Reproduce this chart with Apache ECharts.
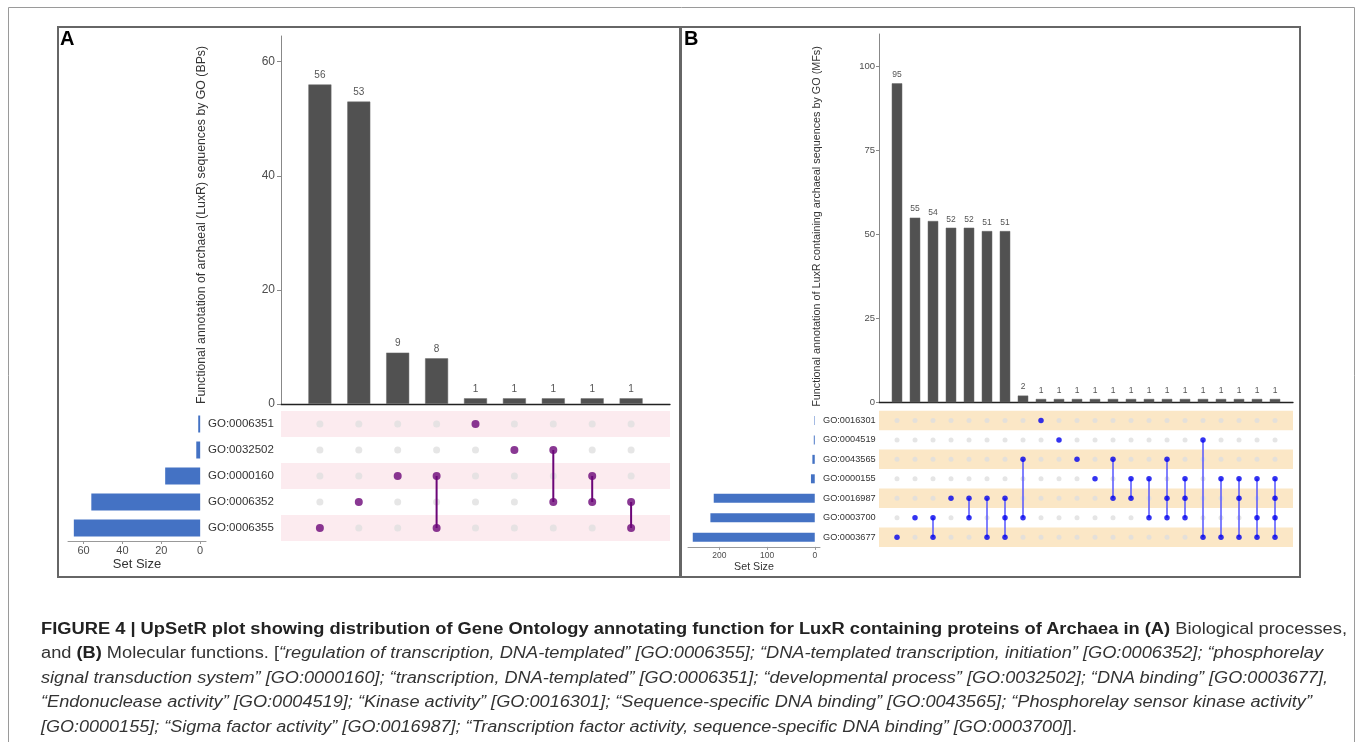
<!DOCTYPE html>
<html>
<head>
<meta charset="utf-8">
<script src="https://cdn.jsdelivr.net/npm/echarts@6/dist/echarts.min.js"></script>
<style>
html,body{margin:0;padding:0;background:#fff;}
#main{position:absolute;left:0;top:0;width:1357px;height:742px;}
#cap{position:absolute;left:41px;top:617px;font-family:"Liberation Sans",Arial,sans-serif;font-size:16px;line-height:24.4px;color:#333;white-space:nowrap;}
#cap .l{display:block;}
#cap .l span{display:inline-block;transform-origin:0 50%;}
#cap b{color:#222;}
</style>
</head>
<body>
<div id="main"></div>
<div id="cap">
<div class="l"><span><b>FIGURE 4 | UpSetR plot showing distribution of Gene Ontology annotating function for LuxR containing proteins of Archaea in (A)</b> Biological processes,</span></div>
<div class="l"><span>and <b>(B)</b> Molecular functions. [<i>“regulation of transcription, DNA-templated” [GO:0006355]; “DNA-templated transcription, initiation” [GO:0006352]; “phosphorelay</i></span></div>
<div class="l"><span><i>signal transduction system” [GO:0000160]; “transcription, DNA-templated” [GO:0006351]; “developmental process” [GO:0032502]; “DNA binding” [GO:0003677],</i></span></div>
<div class="l"><span><i>“Endonuclease activity” [GO:0004519]; “Kinase activity” [GO:0016301]; “Sequence-specific DNA binding” [GO:0043565]; “Phosphorelay sensor kinase activity”</i></span></div>
<div class="l"><span><i>[GO:0000155]; “Sigma factor activity” [GO:0016987]; “Transcription factor activity, sequence-specific DNA binding” [GO:0003700]</i>].</span></div>
</div>
<script>
// ---------- Panel A data (Biological processes) ----------
const setsA = ['GO:0006351', 'GO:0032502', 'GO:0000160', 'GO:0006352', 'GO:0006355'];
const setSizesA = [1, 2, 18, 56, 65];
const interCountsA = [56, 53, 9, 8, 1, 1, 1, 1, 1];
// member set indices (rows, top to bottom) of each intersection column
const interMembersA = [[4], [3], [2], [2, 4], [0], [1], [1, 3], [2, 3], [3, 4]];
const barTicksA = [0, 20, 40, 60];
const setTicksA = [0, 20, 40, 60];

// ---------- Panel B data (Molecular functions) ----------
const setsB = ['GO:0016301', 'GO:0004519', 'GO:0043565', 'GO:0000155', 'GO:0016987', 'GO:0003700', 'GO:0003677'];
const setSizesB = [1, 2, 5, 8, 212, 219, 256];
const interCountsB = [95, 55, 54, 52, 52, 51, 51, 2, 1, 1, 1, 1, 1, 1, 1, 1, 1, 1, 1, 1, 1, 1];
const interMembersB = [[6], [5], [5, 6], [4], [4, 5], [4, 6], [4, 5, 6], [2, 5], [0], [1], [2], [3], [2, 4], [3, 4], [3, 5], [2, 4, 5], [3, 4, 5], [1, 6], [3, 6], [3, 4, 6], [3, 5, 6], [3, 4, 5, 6]];
const barTicksB = [0, 25, 50, 75, 100];
const setTicksB = [0, 100, 200];

const FONT = '"Liberation Sans", Arial, Helvetica, sans-serif';

function barData(counts) { return counts.map((v, i) => [i + 1, v]); }
function activeDots(members) {
  const out = [];
  members.forEach((m, i) => m.forEach(r => out.push([i + 1, r])));
  return out;
}
function inactiveDots(members, nSets) {
  const out = [];
  members.forEach((m, i) => { for (let r = 0; r < nSets; r++) if (m.indexOf(r) < 0) out.push([i + 1, r]); });
  return out;
}
function connectors(members) {
  return members.map((m, i) => [i + 1, Math.min.apply(null, m), Math.max.apply(null, m)]).filter(d => d[1] !== d[2]);
}
function bandRows(n) { const o = []; for (let r = 0; r < n; r += 2) o.push([0, r]); return o; }

function bandSeries(xi, n, fill) {
  return {
    type: 'custom', xAxisIndex: xi, yAxisIndex: xi, silent: true, z: 1,
    encode: { x: 0, y: 1 },
    data: bandRows(n),
    renderItem: function (params, api) {
      const c = api.coord([0, api.value(1)]);
      const h = api.size([0, 1])[1];
      return { type: 'rect', shape: { x: params.coordSys.x, y: c[1] - h / 2, width: params.coordSys.width, height: h }, style: { fill: fill } };
    }
  };
}
function connSeries(xi, members, color, w) {
  return {
    type: 'custom', xAxisIndex: xi, yAxisIndex: xi, silent: true, z: 3,
    encode: { x: 0, y: [1, 2] },
    data: connectors(members),
    renderItem: function (params, api) {
      const p1 = api.coord([api.value(0), api.value(1)]);
      const p2 = api.coord([api.value(0), api.value(2)]);
      return { type: 'line', shape: { x1: p1[0], y1: p1[1], x2: p2[0], y2: p2[1] }, style: { stroke: color, lineWidth: w } };
    }
  };
}

const chart = echarts.init(document.getElementById('main'), null, { renderer: 'canvas', width: 1357, height: 742 });

const option = {
  animation: false,
  textStyle: { fontFamily: FONT },
  grid: [
    { left: 281, top: 36, width: 389, height: 368 },      // 0 A bars
    { left: 281, top: 411, width: 389, height: 130 },     // 1 A matrix
    { left: 68, top: 411, width: 138, height: 130 },      // 2 A set sizes
    { left: 879, top: 34, width: 414, height: 368.3 },    // 3 B bars
    { left: 879, top: 410.7, width: 414, height: 136.2 }, // 4 B matrix
    { left: 688, top: 410.7, width: 132, height: 136.2 }  // 5 B set sizes
  ],
  xAxis: [
    { gridIndex: 0, type: 'value', min: 0, max: 10, axisLine: { show: true, lineStyle: { color: '#222', width: 1.3 } }, axisTick: { show: false }, axisLabel: { show: false }, splitLine: { show: false } },
    { gridIndex: 1, type: 'value', min: 0, max: 10, show: false },
    { gridIndex: 2, type: 'value', min: -3, max: 68, inverse: true, splitLine: { show: false },
      axisLine: { show: true, lineStyle: { color: '#999', width: 1 } },
      axisTick: { show: true, length: 3, customValues: setTicksA, lineStyle: { color: '#999' } },
      axisLabel: { customValues: setTicksA, fontSize: 11, color: '#4d4d4d', margin: 4 } },
    { gridIndex: 3, type: 'value', min: 0, max: 23, axisLine: { show: true, lineStyle: { color: '#222', width: 1.3 } }, axisTick: { show: false }, axisLabel: { show: false }, splitLine: { show: false } },
    { gridIndex: 4, type: 'value', min: 0, max: 23, show: false },
    { gridIndex: 5, type: 'value', min: -11, max: 266, inverse: true, splitLine: { show: false },
      axisLine: { show: true, lineStyle: { color: '#999', width: 1 } },
      axisTick: { show: true, length: 3, customValues: setTicksB, lineStyle: { color: '#999' } },
      axisLabel: { customValues: setTicksB, fontSize: 8.5, color: '#4d4d4d', margin: 4 } }
  ],
  yAxis: [
    { gridIndex: 0, type: 'value', min: 0, max: 64.5, splitLine: { show: false },
      axisLine: { show: true, lineStyle: { color: '#888', width: 1 } },
      axisTick: { show: true, length: 4, customValues: barTicksA, lineStyle: { color: '#888' } },
      axisLabel: { customValues: barTicksA, fontSize: 12, color: '#4d4d4d', margin: 6 } },
    { gridIndex: 1, type: 'category', data: setsA, inverse: true, show: false },
    { gridIndex: 2, type: 'category', data: setsA, inverse: true, position: 'right',
      axisLine: { show: false }, axisTick: { show: false },
      axisLabel: { fontSize: 11.5, color: '#333', margin: 2 } },
    { gridIndex: 3, type: 'value', min: 0, max: 109.7, splitLine: { show: false },
      axisLine: { show: true, lineStyle: { color: '#888', width: 1 } },
      axisTick: { show: true, length: 3, customValues: barTicksB, lineStyle: { color: '#888' } },
      axisLabel: { customValues: barTicksB, fontSize: 9.5, color: '#4d4d4d', margin: 4 } },
    { gridIndex: 4, type: 'category', data: setsB, inverse: true, show: false },
    { gridIndex: 5, type: 'category', data: setsB, inverse: true, position: 'right',
      axisLine: { show: false }, axisTick: { show: false },
      axisLabel: { fontSize: 9.2, color: '#333', margin: 3 } }
  ],
  series: [
    // Panel A
    { type: 'bar', xAxisIndex: 0, yAxisIndex: 0, data: barData(interCountsA), barWidth: 23,
      itemStyle: { color: '#515151', borderColor: '#6a6a6a', borderWidth: 0.5 },
      label: { show: true, position: 'top', distance: 4, fontSize: 10, color: '#555', formatter: p => p.value[1] } },
    bandSeries(1, setsA.length, '#fcebef'),
    { type: 'scatter', xAxisIndex: 1, yAxisIndex: 1, data: inactiveDots(interMembersA, setsA.length), symbolSize: 7, itemStyle: { color: '#e0e0e0' }, z: 2, silent: true },
    connSeries(1, interMembersA, '#6c0678', 2),
    { type: 'scatter', xAxisIndex: 1, yAxisIndex: 1, data: activeDots(interMembersA), symbolSize: 8, itemStyle: { color: '#6c0678' }, z: 4, silent: true },
    { type: 'bar', xAxisIndex: 2, yAxisIndex: 2, data: setSizesA, barWidth: 17, itemStyle: { color: '#4472c4' } },
    // Panel B
    { type: 'bar', xAxisIndex: 3, yAxisIndex: 3, data: barData(interCountsB), barWidth: 10.5,
      itemStyle: { color: '#515151', borderColor: '#6a6a6a', borderWidth: 0.5 },
      label: { show: true, position: 'top', distance: 4, fontSize: 8.5, color: '#555', formatter: p => p.value[1] } },
    bandSeries(4, setsB.length, '#fbe7c6'),
    { type: 'scatter', xAxisIndex: 4, yAxisIndex: 4, data: inactiveDots(interMembersB, setsB.length), symbolSize: 5, itemStyle: { color: '#dedede' }, z: 2, silent: true },
    connSeries(4, interMembersB, '#5656ff', 1.5),
    { type: 'scatter', xAxisIndex: 4, yAxisIndex: 4, data: activeDots(interMembersB), symbolSize: 5.5, itemStyle: { color: '#0000ee' }, z: 4, silent: true },
    { type: 'bar', xAxisIndex: 5, yAxisIndex: 5, data: setSizesB, barWidth: 9, itemStyle: { color: '#4472c4' } }
  ],
  graphic: [
    { type: 'rect', silent: true, z: 100, shape: { x: 8.5, y: 7.5, width: 1346, height: 760 }, style: { fill: 'none', stroke: '#9a9a9a', lineWidth: 1 } },
    { type: 'rect', silent: true, z: 100, shape: { x: 58, y: 27, width: 622, height: 550 }, style: { fill: 'none', stroke: '#666', lineWidth: 2 } },
    { type: 'rect', silent: true, z: 100, shape: { x: 681, y: 27, width: 619, height: 550 }, style: { fill: 'none', stroke: '#666', lineWidth: 2 } },
    { type: 'text', silent: true, z: 100, x: 60, y: 39.5, style: { text: 'A', font: 'bold 20px ' + FONT, fill: '#000', textAlign: 'left', textVerticalAlign: 'middle', align: 'left', verticalAlign: 'middle' } },
    { type: 'text', silent: true, z: 100, x: 684, y: 39.5, style: { text: 'B', font: 'bold 20px ' + FONT, fill: '#000', textAlign: 'left', textVerticalAlign: 'middle', align: 'left', verticalAlign: 'middle' } },
    { type: 'text', silent: true, z: 100, x: 202, y: 225, rotation: Math.PI / 2, style: { text: 'Functional annotation of archaeal (LuxR) sequences by GO (BPs)', font: '12.3px ' + FONT, fill: '#333', textAlign: 'center', textVerticalAlign: 'middle', align: 'center', verticalAlign: 'middle' } },
    { type: 'text', silent: true, z: 100, x: 817, y: 226.5, rotation: Math.PI / 2, style: { text: 'Functional annotation of LuxR containing archaeal sequences by GO (MFs)', font: '10.8px ' + FONT, fill: '#333', textAlign: 'center', textVerticalAlign: 'middle', align: 'center', verticalAlign: 'middle' } },
    { type: 'text', silent: true, z: 100, x: 137, y: 564, style: { text: 'Set Size', font: '13px ' + FONT, fill: '#333', textAlign: 'center', textVerticalAlign: 'middle', align: 'center', verticalAlign: 'middle' } },
    { type: 'text', silent: true, z: 100, x: 754, y: 566.7, style: { text: 'Set Size', font: '10.7px ' + FONT, fill: '#333', textAlign: 'center', textVerticalAlign: 'middle', align: 'center', verticalAlign: 'middle' } }
  ]
};
chart.setOption(option);

// fit caption lines to their measured widths in the reference
const capWidths = [1306, 1282, 1287, 1271, 1036];
document.querySelectorAll('#cap .l span').forEach((s, i) => {
  const w = s.getBoundingClientRect().width;
  if (w > 0) s.style.transform = 'scaleX(' + (capWidths[i] / w) + ')';
});
</script>
</body>
</html>
